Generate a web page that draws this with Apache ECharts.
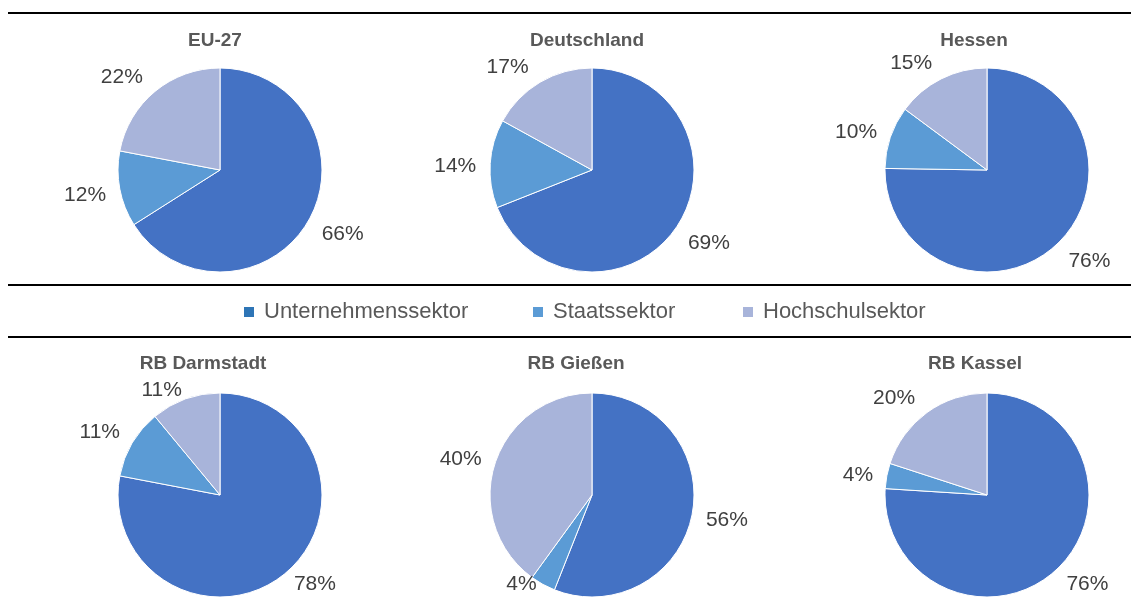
<!DOCTYPE html>
<html>
<head>
<meta charset="UTF-8">
<title>FuE-Personal nach Sektoren</title>
<script type="text/javascript" src="https://cdn.jsdelivr.net/npm/echarts@6/dist/echarts.min.js"></script>
<style>
html,body{margin:0;padding:0;background:#fff;}
</style>
</head>
<body>
	<div id="show" style="width:1131px;height:604px"></div>
	<script type="text/javascript">
		// Daten
		var sektoren=['Unternehmenssektor','Staatssektor','Hochschulsektor'];
		var regionen=['EU-27','Deutschland','Hessen','RB Darmstadt','RB Gießen','RB Kassel'];
		var unternehmen=[66,69,76,78,56,76];
		var staat=[12,14,10,11,4,4];
		var hochschule=[22,17,15,11,40,20];

		// Layout
		var farben=['#4472C4','#5B9BD5','#A8B4DA'];
		var legendFarben=['#2E75B6','#5B9BD5','#A8B4DA'];
		var mitten=[[220,170],[592,170],[987,170],[220,495],[592,495],[987,495]];
		var radius=102;
		var abstand=14;
		var minY=[60,60,60,390,390,390];
		var maxY=[272,272,272,584,584,584];
		var titelX=[215,587,974,203,576,975];
		var titelY=[31,31,31,354,354,354];
		var legendLeft=[242,531,741];
		var schrift="'Liberation Sans',Arial,sans-serif";

		// Beschriftung ausserhalb, aehnlich "beste Anpassung" in Excel
		function labelPos(p){
			var i=p.seriesIndex,k=p.dataIndex;
			var werte=[unternehmen[i],staat[i],hochschule[i]];
			var summe=werte[0]+werte[1]+werte[2];
			var vor=0;
			for(var m=0;m<k;m++) vor+=werte[m];
			var a=(90-360*(vor+werte[k]/2)/summe)*Math.PI/180;
			var dx=Math.cos(a),dy=-Math.sin(a);
			var hw=p.labelRect.width/2,hh=p.labelRect.height*0.4;
			var f=function(d){return Math.max(-1,Math.min(1,2*d));};
			var x=mitten[i][0]+(radius+abstand)*dx+hw*f(dx);
			var y=mitten[i][1]+(radius+abstand)*dy+hh*f(dy);
			if(dy<0){
				y+=5;
				x-=12*Math.max(0,-dy-0.5)*(dx<0?1:-1);
			}
			y=Math.max(minY[i],Math.min(y,maxY[i]));
			return {x:x,y:y,align:'center',verticalAlign:'middle'};
		}

		var myCharts=echarts.init(document.getElementById('show'));

		var titles=[];
		var series=[];
		for(var i=0;i<regionen.length;i++){
			titles.push({
				text:regionen[i],
				left:titelX[i],
				top:titelY[i],
				textAlign:'center',
				padding:0,
				textStyle:{fontFamily:schrift,fontSize:19,fontWeight:'bold',color:'#595959'}
			});
			series.push({
				name:regionen[i],
				type:'pie',
				center:mitten[i],
				radius:radius,
				startAngle:90,
				clockwise:true,
				avoidLabelOverlap:false,
				silent:true,
				itemStyle:{borderColor:'#fff',borderWidth:1},
				label:{
					show:true,
					position:'outside',
					formatter:'{c}%',
					distanceToLabelLine:0,
					fontFamily:schrift,
					fontSize:21,
					color:'#404040'
				},
				labelLine:{show:false,length:10,length2:0},
				labelLayout:labelPos,
				data:[
					{name:sektoren[0],value:unternehmen[i]},
					{name:sektoren[1],value:staat[i]},
					{name:sektoren[2],value:hochschule[i]}
				]
			});
		}

		var legends=[];
		for(var j=0;j<sektoren.length;j++){
			legends.push({
				left:legendLeft[j],
				top:301,
				padding:0,
				icon:'rect',
				itemWidth:12,
				itemHeight:12,
				selectedMode:false,
				textStyle:{fontFamily:schrift,fontSize:22,color:'#595959',padding:[0,0,0,4]},
				data:[{name:sektoren[j],itemStyle:{color:legendFarben[j]}}]
			});
		}

		myCharts.setOption({
			animation:false,
			color:farben,
			title:titles,
			legend:legends,
			graphic:[
				{type:'line',shape:{x1:8,y1:13,x2:1131,y2:13},style:{stroke:'#000',lineWidth:2}},
				{type:'line',shape:{x1:8,y1:285,x2:1131,y2:285},style:{stroke:'#000',lineWidth:2}},
				{type:'line',shape:{x1:8,y1:337,x2:1131,y2:337},style:{stroke:'#000',lineWidth:2}}
			],
			series:series
		});
	</script>
</body>
</html>
